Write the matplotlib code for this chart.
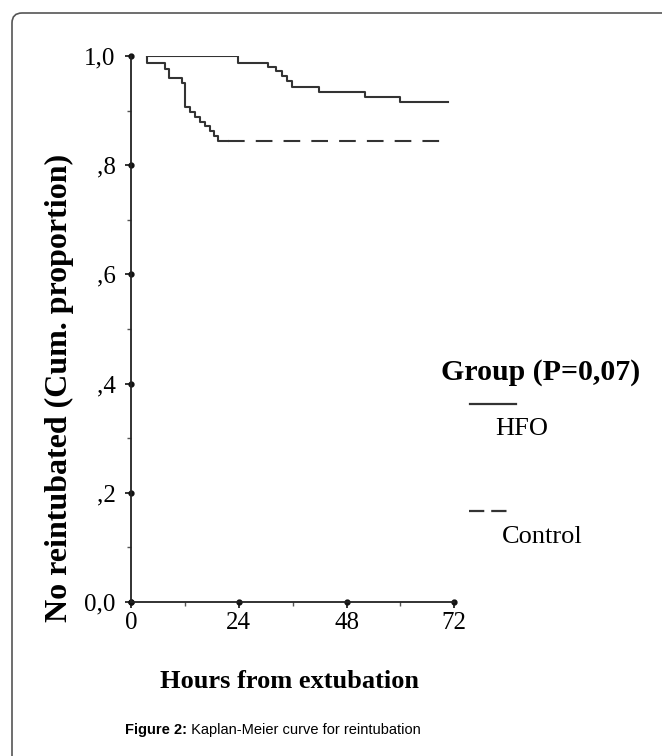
import matplotlib
matplotlib.use('Agg')
import matplotlib.pyplot as plt
from matplotlib.lines import Line2D
from matplotlib.patches import FancyBboxPatch

plt.rcParams['font.family'] = 'Liberation Serif'
plt.rcParams['lines.scale_dashes'] = False

# Kaplan-Meier steps (hours, cum. proportion)
hfo_t = [3.6, 23.9, 30.6, 32.4, 33.6, 34.7, 35.8, 41.9, 52.1, 59.9, 70.7]
hfo_s = [1.0, 0.988, 0.980, 0.972, 0.964, 0.955, 0.944, 0.934, 0.925, 0.916, 0.916]
ctl_t = [3.6, 3.6, 7.6, 8.5, 11.3, 12.0, 13.1, 14.3, 15.4, 16.5, 17.6, 18.5, 19.4, 21.5, 70.7]
ctl_s = [1.0, 0.987, 0.977, 0.959, 0.950, 0.907, 0.898, 0.889, 0.880, 0.871, 0.862, 0.853, 0.845, 0.845, 0.845]

x_ticks = [0, 24, 48, 72]
x_minor = [12, 36, 60]
y_ticks = [0.0, 0.2, 0.4, 0.6, 0.8, 1.0]
y_minor = [0.1, 0.3, 0.5, 0.7, 0.9]
y_labels = ['0,0', ',2', ',4', ',6', ',8', '1,0']

W, H = 662, 756
fig = plt.figure(figsize=(W / 100, H / 100), dpi=100)

def fx(x):
    return x / W

def fy(y):
    return 1 - y / H

# rounded frame round the figure (only left and top visible)
frame = FancyBboxPatch((0.12, -0.5), 7.5, 7.43 + 0.5, boxstyle='round,pad=0,rounding_size=0.1',
                       transform=fig.dpi_scale_trans, fc='none', ec='#555555', lw=1.2)
fig.add_artist(frame)

ax = fig.add_axes([fx(131), fy(602), fx(454.3) - fx(131), (602 - 56) / H])
col = '#333333'
ax.step(hfo_t, hfo_s, where='post', color=col, lw=1.5)
ax.step(ctl_t[:-1], ctl_s[:-1], where='post', color=col, lw=1.5)
ax.plot(ctl_t[-2:], ctl_s[-2:], color=col, lw=1.5, dashes=(12, 8))

ax.set_xlim(0, 72)
ax.set_ylim(0, 1)
for s in ['top', 'right']:
    ax.spines[s].set_visible(False)
for s in ['left', 'bottom']:
    ax.spines[s].set_linewidth(1.3)
    ax.spines[s].set_color('#222222')

ax.set_xticks(x_ticks)
ax.set_xticks(x_minor, minor=True)
ax.set_yticks(y_ticks)
ax.set_yticks(y_minor, minor=True)
ax.set_yticklabels(y_labels)
ax.tick_params(which='major', length=4, width=1.3, color='#222222', labelsize=18)
ax.tick_params(axis='y', which='major', pad=7)
ax.tick_params(axis='x', which='major', pad=3)
ax.tick_params(which='minor', length=3, width=1.0, color='#555555')
ax.plot(x_ticks, [0] * len(x_ticks), 'o', ms=3.5, color='#111111', clip_on=False)
ax.plot([0] * len(y_ticks), y_ticks, 'o', ms=3.5, color='#111111', clip_on=False)

fig.text(fx(59), fy(388), 'No reintubated (Cum. proportion)', rotation=90,
         ha='center', va='center', fontsize=23, fontweight='bold')
fig.text(fx(290), fy(681), 'Hours from extubation', ha='center', va='center',
         fontsize=19, fontweight='bold')

# legend
fig.text(fx(441), fy(372), 'Group (P=0,07)', ha='left', va='center', fontsize=21.5, fontweight='bold')
fig.add_artist(Line2D([fx(470), fx(516)], [fy(404), fy(404)], color=col, lw=1.6))
fig.text(fx(495), fy(429), 'HFO', ha='left', va='center', fontsize=19)
fig.add_artist(Line2D([fx(469), fx(512)], [fy(511), fy(511)], color=col, lw=1.6, dashes=(11, 5)))
fig.text(fx(502), fy(537), 'Control', ha='left', va='center', fontsize=19)

# caption
t1 = fig.text(fx(125), fy(730), 'Figure 2:', ha='left', va='center', fontsize=10.5,
              fontweight='bold', family='Liberation Sans')
ax.annotate(' Kaplan-Meier curve for reintubation', xy=(1, 0), xycoords=t1, va='bottom',
            fontsize=10.5, family='Liberation Sans')

plt.savefig('out.png', dpi=100)
